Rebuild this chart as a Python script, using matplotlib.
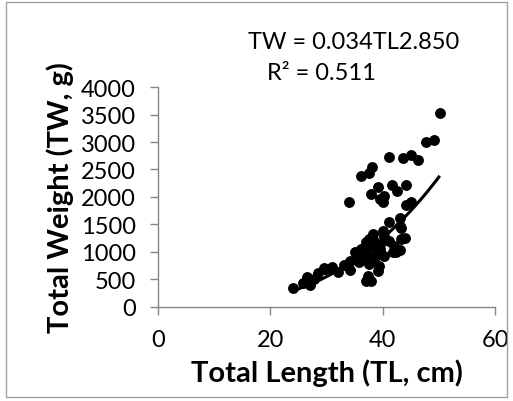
import numpy as np
import matplotlib
matplotlib.use('Agg')
import matplotlib.pyplot as plt
from matplotlib.patches import Rectangle

plt.rcParams['font.family'] = ['Lato', 'DejaVu Sans']

# Total length (cm) and total weight (g)
tl = [50.2, 49.2, 47.7, 41.1, 43.6, 45.1, 46.2, 38.1, 37.6, 36.1,
      41.7, 44.1, 42.6, 39.2, 38.0, 40.2, 39.6, 40.1, 34.0, 44.1,
      45.1, 43.1, 41.1, 43.0, 43.3, 38.2, 40.1, 40.2, 43.2, 41.2,
      37.0, 36.1, 37.9, 39.6, 43.1, 42.3, 40.2, 35.5, 36.7, 37.9,
      39.6, 39.3, 39.1, 37.3, 37.9, 37.0, 34.1, 33.1, 31.0, 30.1,
      32.1, 27.7, 26.6, 25.9, 27.0, 24.0, 34.2, 35.0, 36.7, 37.6,
      38.6, 36.5, 37.2, 38.8, 42.0, 44.0, 41.8, 37.5, 36.9, 38.4,
      28.5, 29.5, 35.8, 37.0]
tw = [3527, 3036, 2994, 2727, 2709, 2758, 2673, 2551, 2430, 2376,
      2218, 2220, 2115, 2176, 2055, 2024, 1964, 1903, 1915, 1860,
      1903, 1612, 1552, 1479, 1440, 1327, 1388, 1297, 1236, 1206,
      1176, 1055, 1115, 1145, 1036, 994, 933, 933, 873, 842,
      1055, 752, 661, 570, 479, 479, 673, 764, 733, 673,
      630, 509, 551, 436, 406, 345, 842, 994, 994, 1236,
      1180, 1020, 900, 1000, 1100, 1250, 1000, 780, 1060, 870,
      620, 700, 820, 950]

# fitted power curve TW = a * TL^b
a, b = 0.034, 2.850
fit_tl = np.linspace(24, 50, 100)
fit_tw = a * fit_tl ** b

fig = plt.figure(figsize=(5.13, 4.02), dpi=100)
ax = fig.add_axes([0.308, 0.234, 0.657, 0.547])

ax.plot(tl, tw, 'o', color='black', markersize=6.8, zorder=3)
ax.plot(fit_tl, fit_tw, color='black', linewidth=2.2, zorder=2)

ax.set_xlim(0, 60)
ax.set_ylim(0, 4000)
ax.set_xticks([0, 20, 40, 60])
ax.set_yticks(np.arange(0, 4001, 500))

axis_color = '#868686'
for side in ['top', 'right']:
    ax.spines[side].set_visible(False)
for side in ['left', 'bottom']:
    ax.spines[side].set_color(axis_color)
    ax.spines[side].set_linewidth(1)
ax.tick_params(axis='both', direction='out', length=6, width=1,
               color=axis_color, labelsize=17, pad=10)

ax.set_xlabel('Total Length (TL, cm)', fontsize=21, fontweight='bold', labelpad=6)
ax.set_ylabel('Total Weight (TW, g)', fontsize=21, fontweight='bold', labelpad=5)

fig.text(0.483, 0.895, 'TW = 0.034TL2.850', fontsize=17, va='center', ha='left')
fig.text(0.52, 0.818, 'R² = 0.511', fontsize=17, va='center', ha='left')

# outer chart border
fig.patches.append(Rectangle((0.012, 0.01), 0.976, 0.982, transform=fig.transFigure,
                             fill=False, edgecolor='#a0a0a0', linewidth=1))

fig.savefig('out.png', dpi=100)
